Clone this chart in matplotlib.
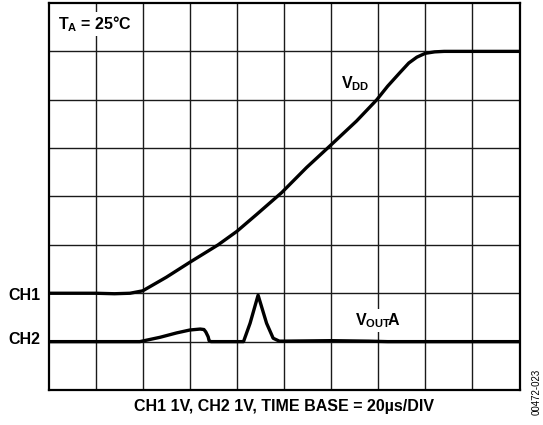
import matplotlib
matplotlib.use("Agg")
import matplotlib.pyplot as plt

# ---- data (time in µs, 20 µs/div; voltages in V, 1 V/div) ----
vdd_time_us = [0, 20, 28, 34.6, 40, 50, 60, 72, 80, 88.4, 99, 109.6, 119.6, 130.8,
               139.4, 144, 149.2, 153, 156.4, 160, 164, 168, 200]
vdd_volts = [0.0, 0.0, -0.01, 0.0, 0.05, 0.33, 0.64, 1.0, 1.28, 1.63, 2.08, 2.6, 3.05,
             3.56, 4.0, 4.28, 4.56, 4.76, 4.88, 4.96, 4.99, 5.0, 5.0]

vout_time_us = [0, 38.8, 47.4, 54.4, 60, 64.4, 66, 66.8, 67.8, 68.2, 69, 82.8, 85.6,
                89, 92.6, 95.4, 98, 100, 120, 136, 144, 200]
vout_volts = [0.0, 0.0, 0.09, 0.18, 0.24, 0.26, 0.25, 0.2, 0.1, 0.02, 0.0, 0.0, 0.38,
              0.96, 0.38, 0.07, 0.01, 0.01, 0.02, 0.01, 0.0, 0.0]

ch1_ground_div = 2
ch2_ground_div = 1
time_per_div_us = 20
volts_per_div = 1

plt.rcParams['font.family'] = ['Liberation Sans', 'DejaVu Sans']
plt.rcParams['mathtext.fontset'] = 'custom'
plt.rcParams['mathtext.rm'] = 'Liberation Sans:bold'
plt.rcParams['mathtext.bf'] = 'Liberation Sans:bold'
plt.rcParams['mathtext.it'] = 'Liberation Sans:bold'

fig = plt.figure(figsize=(5.43, 4.25), dpi=100)
ax = fig.add_axes([48.5 / 543, 35 / 425, 471 / 543, 387 / 425])
ax.set_xlim(0, 10)
ax.set_ylim(0, 8)

for i in range(1, 10):
    ax.axvline(i, color='#1a1a1a', lw=1.0, zorder=1)
for j in range(1, 8):
    ax.axhline(j, color='#1a1a1a', lw=1.0, zorder=1)

vx = [t / time_per_div_us for t in vdd_time_us]
vy = [v / volts_per_div + ch1_ground_div for v in vdd_volts]
ax.plot(vx, vy, color='black', lw=2.4, solid_joinstyle='round', zorder=3)

ox = [t / time_per_div_us for t in vout_time_us]
oy = [v / volts_per_div + ch2_ground_div for v in vout_volts]
ax.plot(ox, oy, color='black', lw=2.4, solid_joinstyle='round', zorder=3)

ax.set_xticks([])
ax.set_yticks([])
for s in ax.spines.values():
    s.set_linewidth(1.6)
    s.set_color('black')

fs = 11.5
box = dict(facecolor='white', edgecolor='none', pad=1.5)
ax.text(0.2, 7.46, r'$\mathrm{T_A}$ = 25°C', fontsize=fs, fontweight='bold',
        ha='left', va='baseline', bbox=box, zorder=4)
ax.text(6.21, 6.24, r'$\mathrm{V_{DD}}$', fontsize=fs, fontweight='bold',
        ha='left', va='baseline', bbox=box, zorder=4)
ax.text(6.51, 1.34, r'$\mathrm{V_{OUT}\!A}$', fontsize=fs, fontweight='bold',
        ha='left', va='baseline', bbox=box, zorder=4)

fig.text(24.5 / 543, 1 - 295 / 425, 'CH1', fontsize=fs, fontweight='bold',
         ha='center', va='center')
fig.text(24.5 / 543, 1 - 340 / 425, 'CH2', fontsize=fs, fontweight='bold',
         ha='center', va='center')
fig.text(284.5 / 543, 1 - 406.5 / 425, 'CH1 1V, CH2 1V, TIME BASE = 20µs/DIV',
         fontsize=fs, fontweight='bold', ha='center', va='center')
fig.text(537 / 543, 1 - 392 / 425, '00472-023', fontsize=7, rotation=90,
         ha='center', va='center')

fig.savefig('out.png', dpi=100)
